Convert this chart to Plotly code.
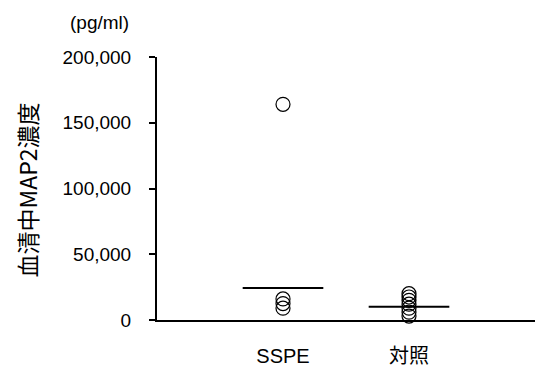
import plotly.graph_objects as go

categories = ["SSPE", "対照"]
sspe_values = [164000, 16000, 12500, 9000]
control_values = [20000, 17500, 15000, 12000, 9000, 6000, 3000]
medians = [24300, 10000]
y_ticks = [0, 50000, 100000, 150000, 200000]
y_tick_labels = ["0", "50,000", "100,000", "150,000", "200,000"]

groups = [sspe_values, control_values]
FONT = "Liberation Sans, Arial, Noto Sans CJK JP, sans-serif"

fig = go.Figure()
for i, vals in enumerate(groups):
    fig.add_trace(go.Scatter(
        x=[i] * len(vals), y=vals, mode="markers",
        marker=dict(symbol="circle-open", size=14, color="black", line=dict(width=1.2)),
        showlegend=False, cliponaxis=False))
    fig.add_trace(go.Scatter(
        x=[i - 0.32, i + 0.32], y=[medians[i], medians[i]], mode="lines",
        line=dict(color="black", width=2), showlegend=False))

fig.update_layout(
    width=537, height=367,
    margin=dict(l=157, r=2, t=57, b=47, autoexpand=False),
    paper_bgcolor="white", plot_bgcolor="white",
    font=dict(family=FONT, color="black"),
    xaxis=dict(range=[-1, 2], tickvals=[0, 1], ticktext=categories, automargin=False,
               showline=True, linecolor="black", linewidth=2, showgrid=False,
               zeroline=False, ticks="", tickfont=dict(size=20), ticklabelstandoff=17),
    yaxis=dict(range=[0, 200000], tickvals=y_ticks, ticktext=y_tick_labels, automargin=False,
               showline=True, linecolor="black", linewidth=2, showgrid=False,
               zeroline=False, ticks="outside", ticklen=6, tickwidth=2, tickcolor="black",
               tickfont=dict(size=19), ticklabelstandoff=14),
    annotations=[
        dict(text="血清中MAP2濃度", textangle=-90, xref="paper", yref="paper",
             x=0, y=0.5, xanchor="center", yanchor="middle", xshift=-131, yshift=-2,
             showarrow=False, font=dict(size=23, family="Noto Sans CJK JP, sans-serif")),
        dict(text="(pg/ml)", xref="paper", yref="paper", x=0, y=1,
             xanchor="center", yanchor="middle", xshift=-58, yshift=35, showarrow=False,
             font=dict(size=19, family=FONT)),
    ],
)

fig.write_html("out.html", config={"displayModeBar": False},
               post_script="document.body.style.margin='0px';document.body.style.overflow='hidden';")
